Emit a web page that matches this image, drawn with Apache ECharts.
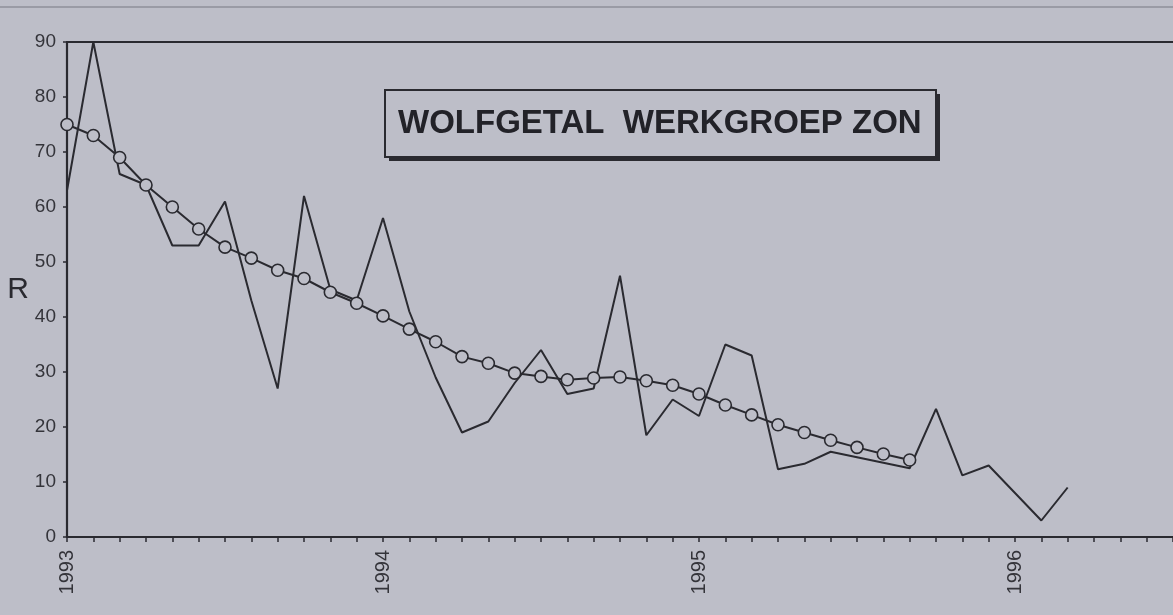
<!DOCTYPE html>
<html>
<head>
<meta charset="utf-8">
<script src="https://cdn.jsdelivr.net/npm/echarts@6/dist/echarts.min.js"></script>
<style>
html,body{margin:0;padding:0;background:#bdbec8;}
#chart{width:1173px;height:615px;}
</style>
</head>
<body>
<div id="chart"></div>
<script>
// Months since January 1993
var startYear = 1993;
var yearLabels = ['1993', '1994', '1995', '1996'];
// Monthly sunspot number R (Wolf number)
var monthly = [63, 90, 66, 64, 53, 53, 61, 43, 27, 62, 45, 43,
               58, 41, 29, 19, 21, 28, 34, 26, 27, 47.5, 18.5, 25,
               22, 35, 33, 12.3, 13.3, 15.5, 14.5, 13.5, 12.5, 23.3, 11.2, 13,
               8, 3, 9];
// Smoothed R (running mean)
var smoothed = [75, 73, 69, 64, 60, 56, 52.7, 50.7, 48.5, 47, 44.5, 42.5,
                40.2, 37.8, 35.5, 32.8, 31.6, 29.8, 29.2, 28.6, 28.9, 29.1, 28.4, 27.6,
                26, 24, 22.2, 20.4, 19, 17.6, 16.3, 15.1, 14];
var yTicks = [0, 10, 20, 30, 40, 50, 60, 70, 80, 90];
var titleText = 'WOLFGETAL  WERKGROEP ZON';

var bg = '#bdbec8';
var ink = '#2a2a30';
var font = '"Liberation Sans", Arial, sans-serif';

function pairs(arr) { return arr.map(function (v, i) { return [i, v]; }); }

var chart = echarts.init(document.getElementById('chart'), null, {renderer: 'canvas'});
chart.setOption({
  backgroundColor: bg,
  animation: false,
  grid: {left: 67, top: 42, right: -12, bottom: 78, containLabel: false},
  xAxis: [{
    type: 'value', min: 0, max: 42, interval: 1,
    axisLine: {lineStyle: {color: ink, width: 2.2}},
    axisTick: {show: true, length: 5, lineStyle: {color: ink, width: 1.5}},
    splitLine: {show: false},
    axisLabel: {
      rotate: 90, margin: 13, color: '#34343a', fontSize: 20, fontFamily: font,
      formatter: function (v) { return (v % 12 === 0) ? yearLabels[v / 12] : ''; }
    }
  }, {
    type: 'value', min: 0, max: 42, position: 'top',
    axisLine: {show: true, lineStyle: {color: ink, width: 2.2}},
    axisTick: {show: false}, axisLabel: {show: false}, splitLine: {show: false}
  }],
  yAxis: {
    type: 'value', min: yTicks[0], max: yTicks[yTicks.length - 1], interval: 10,
    name: 'R', nameLocation: 'middle', nameRotate: 0, nameGap: 41,
    nameTextStyle: {fontSize: 30, color: '#2a2a30', fontFamily: font, align: 'center', verticalAlign: 'middle'},
    axisLine: {show: true, lineStyle: {color: ink, width: 2.2}},
    axisTick: {show: true, length: 4, lineStyle: {color: ink, width: 1.5}},
    splitLine: {show: false},
    axisLabel: {margin: 11, color: '#34343a', fontSize: 19, fontFamily: font}
  },
  series: [{
    type: 'line', data: pairs(monthly), showSymbol: false, symbol: 'none',
    lineStyle: {color: ink, width: 2}, z: 2
  }, {
    type: 'line', data: pairs(smoothed), symbol: 'circle', symbolSize: 12,
    lineStyle: {color: ink, width: 2},
    itemStyle: {color: bg, borderColor: ink, borderWidth: 1.6}, z: 3
  }],
  graphic: [
    {type: 'line', shape: {x1: 0, y1: 7, x2: 1173, y2: 7}, style: {stroke: '#9a9ba5', lineWidth: 2}, silent: true},
    {type: 'rect', shape: {x: 389, y: 94, width: 551, height: 67},
     style: {fill: ink}, z: 9, silent: true},
    {type: 'rect', shape: {x: 385, y: 90, width: 551, height: 67},
     style: {fill: bg, stroke: ink, lineWidth: 2}, z: 10, silent: true},
    {type: 'text', x: 398, y: 124, z: 11, silent: true,
     style: {text: titleText, fill: '#222228', font: 'bold 33px ' + font, textVerticalAlign: 'middle', verticalAlign: 'middle'}}
  ]
});
</script>
</body>
</html>
